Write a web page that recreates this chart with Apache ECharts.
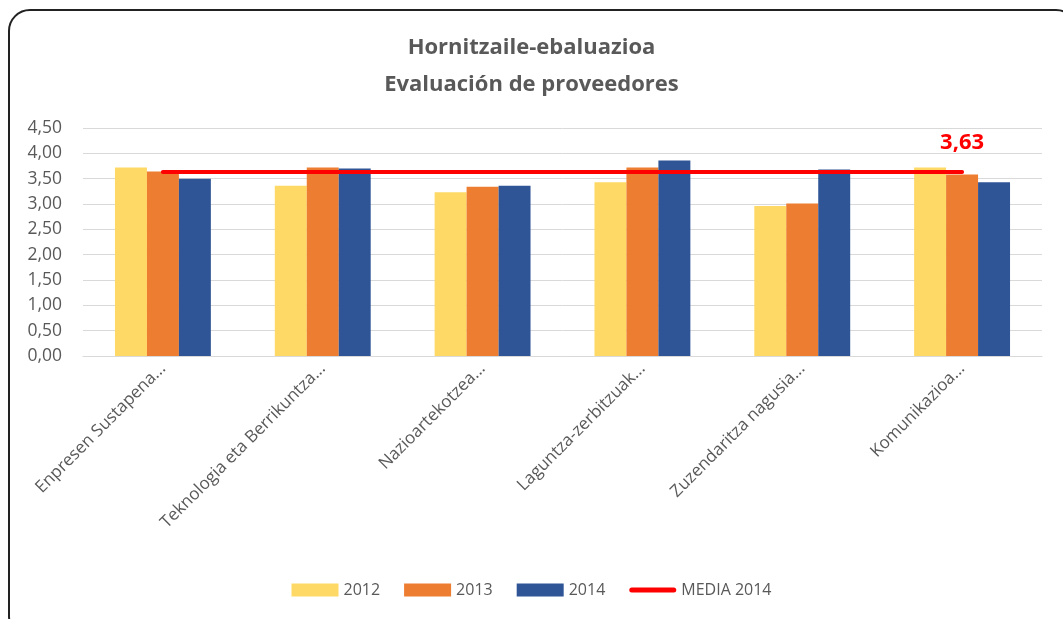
<!DOCTYPE html>
<html>
<head>
<meta charset="utf-8">
<script src="https://cdn.jsdelivr.net/npm/echarts@6/dist/echarts.min.js"></script>
<style>
  html, body { margin: 0; padding: 0; background: #fff; overflow: hidden; }
  #frame {
    position: absolute; left: 8px; top: 9px; width: 1070px; height: 630px;
    border: 2px solid #222; border-radius: 22px; box-sizing: border-box;
  }
  #chart { position: absolute; left: 0; top: 0; width: 1063px; height: 619px; }
</style>
</head>
<body>
<div id="frame"></div>
<div id="chart"></div>
<script>
// datos
const categories = [
  'Enpresen Sustapena...',
  'Teknologia eta Berrikuntza...',
  'Nazioartekotzea...',
  'Laguntza-zerbitzuak...',
  'Zuzendaritza nagusia...',
  'Komunikazioa...'
]
const values2012 = [3.72, 3.36, 3.23, 3.43, 2.96, 3.72]
const values2013 = [3.64, 3.72, 3.34, 3.72, 3.01, 3.58]
const values2014 = [3.50, 3.70, 3.36, 3.86, 3.68, 3.43]
const media2014 = [3.63, 3.63, 3.63, 3.63, 3.63, 3.63]

const fmt = v => v.toFixed(2).replace('.', ',')
const txt = '#595959'
const font = '"Open Sans", "Noto Sans", sans-serif'
const last = media2014.length - 1

const chart = echarts.init(document.getElementById('chart'))
chart.setOption({
  animation: false,
  textStyle: { fontFamily: font },
  title: {
    text: 'Hornitzaile-ebaluazioa\nEvaluación de proveedores',
    left: 'center',
    top: 24,
    textStyle: { color: txt, fontSize: 22, fontWeight: 'bold', lineHeight: 37, fontFamily: font }
  },
  legend: {
    bottom: 16,
    left: 'center',
    itemWidth: 47,
    itemHeight: 13,
    itemGap: 24,
    textStyle: { color: txt, fontSize: 16, fontFamily: font },
    data: [
      { name: '2012', icon: 'rect' },
      { name: '2013', icon: 'rect' },
      { name: '2014', icon: 'rect' },
      // solo la linea, sin simbolo
      { name: 'MEDIA 2014', icon: 'path://M2.5,0 L44.5,0 A2.5,2.5 0 0 1 44.5,5 L2.5,5 A2.5,2.5 0 0 1 2.5,0 Z' }
    ]
  },
  grid: { left: 83, right: 21, top: 128, bottom: 263, containLabel: false },
  xAxis: {
    type: 'category',
    data: categories,
    axisLine: { lineStyle: { color: '#d9d9d9' } },
    axisTick: { show: false },
    axisLabel: { rotate: 45, color: txt, fontSize: 17, interval: 0, margin: 10 }
  },
  yAxis: {
    type: 'value',
    min: 0,
    max: 4.5,
    interval: 0.5,
    axisLine: { show: false },
    axisTick: { show: false },
    splitLine: { lineStyle: { color: '#d9d9d9', width: 1 } },
    axisLabel: { color: txt, fontSize: 17.5, margin: 21, formatter: fmt }
  },
  series: [
    { name: '2012', type: 'bar', data: values2012, barGap: '0%', barCategoryGap: '40%',
      itemStyle: { color: '#ffd966' } },
    { name: '2013', type: 'bar', data: values2013, itemStyle: { color: '#ed7d31' } },
    { name: '2014', type: 'bar', data: values2014, itemStyle: { color: '#2f5597' } },
    { name: 'MEDIA 2014', type: 'line', data: media2014, symbol: 'none',
      lineStyle: { color: '#ff0000', width: 4, cap: 'round' },
      itemStyle: { color: '#ff0000' },
      markPoint: {
        symbol: 'circle',
        symbolSize: 1,
        itemStyle: { color: 'rgba(0,0,0,0)' },
        data: [{ coord: [last, media2014[last]], value: media2014[last] }],
        label: {
          show: true,
          position: 'top',
          distance: 18,
          formatter: p => fmt(p.value),
          color: '#ff0000',
          fontSize: 22,
          fontWeight: 'bold',
          fontFamily: font
        }
      }
    }
  ]
})
</script>
</body>
</html>
